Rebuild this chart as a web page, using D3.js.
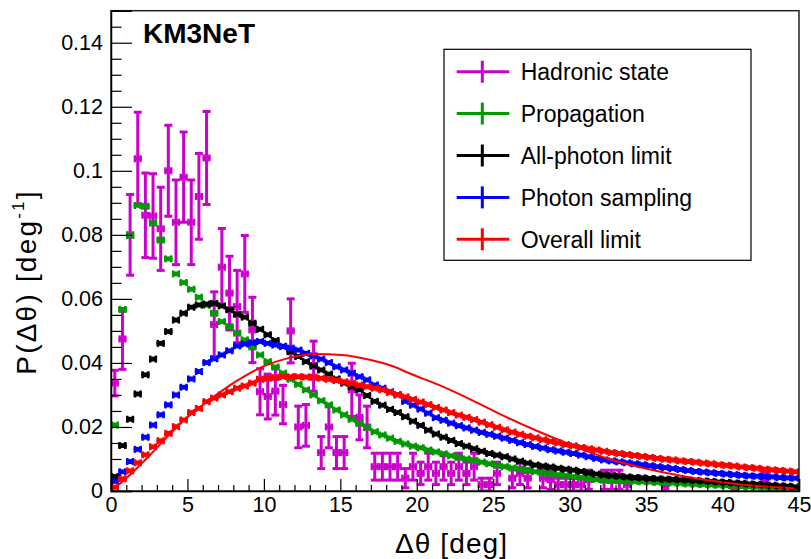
<!DOCTYPE html>
<html><head><meta charset="utf-8">
<script src="https://cdn.jsdelivr.net/npm/d3@7"></script>
<style>
body{margin:0;background:#fff}
svg{display:block}
text{font-family:"Liberation Sans",Arial,Helvetica,sans-serif}
</style>
</head><body>
<svg id="chart" width="811" height="559"></svg>
<script>
// ---------------- data ----------------
const binWidth = 0.5;
const binLow = d3.range(0, 45, binWidth);           // 90 bins of 0.5 deg
const xTicks = [0, 5, 10, 15, 20, 25, 30, 35, 40, 45];
const xTickLabels = ["0","5","10","15","20","25","30","35","40","45"];
const yTicks = [0, 0.02, 0.04, 0.06, 0.08, 0.1, 0.12, 0.14];
const yTickLabels = ["0","0.02","0.04","0.06","0.08","0.1","0.12","0.14"];

const hadronicVal = [
 0.0337,0.0475,0.0800,0.1038,0.0861,0.0859,0.0819,0.1000,0.0839,0.0980,
 0.0839,0.0920,0.1040,0.0520,0.0699,0.0618,0.0576,0.0678,0.0503,0.0310,
 0.0295,0.0312,0.0270,0.0500,0.0200,0.0205,0.0390,0.0120,0.0200,0.0120,
 0.0120,0.0316,0.0230,0.0200,0.0076,0.0076,0.0076,0.0076,0.0040,0.0076,
 0.0055,0.0076,0.0055,0.0076,0.0055,0.0076,0.0055,0.0076,0.0020,0.0020,
 0.0055,null,0.0040,0.0055,0.0040,null,0.0040,0.0035,0.0020,0.0020,
 0.0020,0.0020,0.0035,null,0.0035,0.0035,0.0035,0.0020,null,null,
 null,null,0.0013,null,null,null,null,null,null,null,
 null,0.0010,null,null,null,0.0035,null,null,null,null];
const hadronicErr = [
 0.0040,0.0095,0.0126,0.0145,0.0132,0.0132,0.0130,0.0142,0.0132,0.0141,
 0.0132,0.0134,0.0145,0.0102,0.0121,0.0115,0.0113,0.0120,0.0102,0.0072,
 0.0070,0.0075,0.0060,0.0100,0.0065,0.0065,0.0078,0.0050,0.0065,0.0050,
 0.0050,0.0083,0.0070,0.0065,0.0042,0.0042,0.0042,0.0042,0.0030,0.0042,
 0.0035,0.0042,0.0035,0.0042,0.0035,0.0042,0.0035,0.0042,0.0020,0.0020,
 0.0035,0,0.0030,0.0035,0.0030,0,0.0030,0.0030,0.0020,0.0020,
 0.0020,0.0020,0.0030,0,0.0030,0.0030,0.0030,0.0020,0,0,
 0,0,0.0012,0,0,0,0,0,0,0,
 0,0.0010,0,0,0,0.0025,0,0,0,0];

const propagation = [
 0.0206,0.0567,0.0798,0.0892,0.0889,0.0837,0.0784,0.0725,0.0678,0.0651,
 0.0630,0.0605,0.0580,0.0555,0.0529,0.0513,0.0493,0.0472,0.0450,0.0425,
 0.0404,0.0387,0.0368,0.0349,0.0333,0.0316,0.0300,0.0282,0.0269,0.0253,
 0.0238,0.0224,0.0211,0.0198,0.0185,0.0175,0.0165,0.0155,0.0147,0.0140,
 0.0135,0.0128,0.0122,0.0116,0.0110,0.0105,0.0100,0.0095,0.0090,0.0085,
 0.0080,0.0076,0.0072,0.0068,0.0064,0.0060,0.0057,0.0054,0.0051,0.0048,
 0.0045,0.0042,0.0039,0.0036,0.0034,0.0033,0.0032,0.0031,0.0030,0.0029,
 0.0028,0.0027,0.0026,0.0025,0.0024,0.0022,0.0021,0.0020,0.0019,0.0018,
 0.0017,0.0016,0.0014,0.0013,0.0012,0.0011,0.0009,0.0008,0.0007,0.0005];

const allPhoton = [
 0.0045,0.0142,0.0224,0.0303,0.0363,0.0412,0.0461,0.0498,0.0534,0.0555,
 0.0574,0.0581,0.0584,0.0586,0.0578,0.0566,0.0552,0.0543,0.0524,0.0505,
 0.0488,0.0470,0.0452,0.0435,0.0420,0.0404,0.0391,0.0378,0.0365,0.0350,
 0.0337,0.0326,0.0316,0.0298,0.0280,0.0268,0.0255,0.0245,0.0232,0.0218,
 0.0205,0.0190,0.0178,0.0168,0.0158,0.0148,0.0140,0.0132,0.0124,0.0117,
 0.0112,0.0107,0.0100,0.0093,0.0087,0.0081,0.0078,0.0075,0.0071,0.0068,
 0.0065,0.0061,0.0057,0.0053,0.0050,0.0048,0.0046,0.0044,0.0042,0.0041,
 0.0039,0.0038,0.0037,0.0036,0.0035,0.0034,0.0033,0.0031,0.0030,0.0028,
 0.0027,0.0025,0.0024,0.0022,0.0021,0.0019,0.0018,0.0016,0.0015,0.0013];

const photonSampling = [
 0.0030,0.0060,0.0092,0.0130,0.0168,0.0206,0.0238,0.0269,0.0300,0.0324,
 0.0350,0.0373,0.0401,0.0413,0.0425,0.0438,0.0453,0.0459,0.0463,0.0467,
 0.0461,0.0456,0.0451,0.0446,0.0440,0.0430,0.0422,0.0412,0.0401,0.0388,
 0.0378,0.0368,0.0357,0.0347,0.0331,0.0321,0.0310,0.0300,0.0280,0.0268,
 0.0256,0.0243,0.0229,0.0221,0.0212,0.0204,0.0197,0.0190,0.0183,0.0177,
 0.0171,0.0165,0.0158,0.0151,0.0145,0.0139,0.0134,0.0129,0.0125,0.0121,
 0.0117,0.0112,0.0107,0.0102,0.0097,0.0094,0.0091,0.0088,0.0085,0.0082,
 0.0079,0.0076,0.0073,0.0070,0.0067,0.0064,0.0061,0.0059,0.0057,0.0055,
 0.0053,0.0051,0.0049,0.0047,0.0046,0.0045,0.0044,0.0042,0.0041,0.0040];

const overallLimit = [
 0.0012,0.0038,0.0063,0.0088,0.0113,0.0138,0.0157,0.0180,0.0201,0.0222,
 0.0245,0.0258,0.0279,0.0290,0.0300,0.0310,0.0321,0.0328,0.0337,0.0349,
 0.0352,0.0354,0.0357,0.0357,0.0357,0.0356,0.0355,0.0352,0.0349,0.0345,
 0.0341,0.0336,0.0331,0.0326,0.0321,0.0316,0.0308,0.0301,0.0294,0.0286,
 0.0278,0.0270,0.0261,0.0253,0.0245,0.0237,0.0230,0.0223,0.0215,0.0207,
 0.0199,0.0191,0.0184,0.0177,0.0171,0.0166,0.0160,0.0155,0.0150,0.0145,
 0.0141,0.0136,0.0132,0.0128,0.0124,0.0120,0.0117,0.0114,0.0111,0.0108,
 0.0105,0.0102,0.0099,0.0097,0.0094,0.0092,0.0090,0.0087,0.0085,0.0082,
 0.0080,0.0078,0.0075,0.0073,0.0071,0.0068,0.0066,0.0064,0.0062,0.0060];

// statistical errors of the high-statistics histograms (tiny)
const histErr = 0.0003;

// smooth "Overall limit" curve, read at sample points
const fitDeg = [0, 1, 2.5, 4, 5, 6.15, 8.33, 10, 11.6, 13.3, 15.1, 17, 18.8, 19.2, 21.4, 23.6, 25.8, 28, 30.1, 32.1, 34.9, 38.2, 41.5, 44.7];
const fitVal = [0, 0.004, 0.011, 0.0185, 0.023, 0.0274, 0.0347, 0.039, 0.0415, 0.0428, 0.0425, 0.0409, 0.0383, 0.0374, 0.0332, 0.0284, 0.0232, 0.0185, 0.0144, 0.0107, 0.0071, 0.0040, 0.0019, 0.0008];

const seriesNames  = ["Hadronic state","Propagation","All-photon limit","Photon sampling","Overall limit"];
const seriesColors = ["#cc00cc","#009900","#000000","#0000ff","#ff0000"];

// ---------------- layout ----------------
const W = 811, H = 559;
const m = {left:111, right:12, top:10.7, bottom:68};
const svg = d3.select("#chart");
const x = d3.scaleLinear().domain([0,45]).range([m.left, W - m.right]);
const y = d3.scaleLinear().domain([0,0.15]).range([H - m.bottom, m.top]);

svg.append("rect").attr("width",W).attr("height",H).attr("fill","#fff");

svg.append("clipPath").attr("id","plotclip").append("rect")
  .attr("x", m.left).attr("y", m.top).attr("width", W-m.left-m.right).attr("height", H-m.top-m.bottom);

const plot = svg.append("g").attr("clip-path","url(#plotclip)");

function drawSeries(vals, errs, color){
  const g = plot.append("g").attr("stroke", color).attr("fill","none").attr("stroke-linecap","butt");
  vals.forEach((v,i)=>{
    if (v === null || v === undefined) return;
    const e = Array.isArray(errs) ? errs[i] : errs;
    const xa = x(binLow[i]), xb = x(binLow[i]+binWidth), xc = (xa+xb)/2;
    const yv = y(v), yt = y(v+e), yb = y(Math.max(v-e,0));
    g.append("line").attr("x1",xa).attr("x2",xb).attr("y1",yv).attr("y2",yv).attr("stroke-width",3);
    g.append("line").attr("x1",xa+1).attr("x2",xa+1).attr("y1",yv-3.5).attr("y2",yv+3.5).attr("stroke-width",2.5);
    g.append("line").attr("x1",xb-1).attr("x2",xb-1).attr("y1",yv-3.5).attr("y2",yv+3.5).attr("stroke-width",2.5);
    g.append("line").attr("x1",xc).attr("x2",xc).attr("y1",yt).attr("y2",yb).attr("stroke-width",3);
    g.append("line").attr("x1",xc-4).attr("x2",xc+4).attr("y1",yt).attr("y2",yt).attr("stroke-width",3);
    g.append("line").attr("x1",xc-4).attr("x2",xc+4).attr("y1",yb).attr("y2",yb).attr("stroke-width",3);
  });
}

drawSeries(hadronicVal, hadronicErr, seriesColors[0]);
drawSeries(propagation, histErr, seriesColors[1]);
drawSeries(allPhoton, histErr, seriesColors[2]);
drawSeries(photonSampling, histErr, seriesColors[3]);
drawSeries(overallLimit, histErr, seriesColors[4]);

const fitPts = fitDeg.map((d,i)=>[d, fitVal[i]]);
plot.append("path").datum(fitPts)
  .attr("fill","none").attr("stroke","#ff0000").attr("stroke-width",2)
  .attr("d", d3.line().x(d=>x(d[0])).y(d=>y(d[1])).curve(d3.curveMonotoneX));

// ---------------- axes ----------------
const fontTick = 21.5;
svg.append("rect").attr("x",m.left).attr("y",m.top).attr("width",W-m.left-m.right).attr("height",H-m.top-m.bottom)
  .attr("fill","none").attr("stroke","#222").attr("stroke-width",1.5);

const yMinor = d3.range(0, 0.1500001, 0.005).filter(v => Math.abs((v/0.02) - Math.round(v/0.02)) > 1e-6);
const yAxisMinor = d3.axisLeft(y).tickValues(yMinor).tickSize(-10.5).tickFormat("");
const yAxisMajor = d3.axisLeft(y).tickValues(yTicks).tickSize(-21).tickPadding(8)
  .tickFormat((d,i)=>yTickLabels[i]);
svg.append("g").attr("transform",`translate(${m.left},0)`).call(yAxisMinor)
  .call(g=>g.select(".domain").remove()).selectAll("line").attr("stroke","#000").attr("stroke-width",1.2);
const ya = svg.append("g").attr("transform",`translate(${m.left},0)`).call(yAxisMajor);
ya.select(".domain").attr("stroke","#000").attr("stroke-width",1.5);
ya.selectAll("line").attr("stroke","#000").attr("stroke-width",1.2);
ya.selectAll("text").attr("font-size",fontTick).attr("fill","#000")
  .attr("font-family",'"Liberation Sans",Arial,sans-serif');

const xMinor = d3.range(0, 45.0001, 1).filter(v => v % 5 !== 0);
const xAxisMinor = d3.axisBottom(x).tickValues(xMinor).tickSize(-6).tickFormat("");
const xAxisMajor = d3.axisBottom(x).tickValues(xTicks).tickSize(-12).tickPadding(6)
  .tickFormat((d,i)=>xTickLabels[i]);
svg.append("g").attr("transform",`translate(0,${H-m.bottom})`).call(xAxisMinor)
  .call(g=>g.select(".domain").remove()).selectAll("line").attr("stroke","#000").attr("stroke-width",1.2);
const xa = svg.append("g").attr("transform",`translate(0,${H-m.bottom})`).call(xAxisMajor);
xa.select(".domain").attr("stroke","#000").attr("stroke-width",1.5);
xa.selectAll("line").attr("stroke","#000").attr("stroke-width",1.2);
xa.selectAll("text").attr("font-size",fontTick).attr("fill","#000")
  .attr("font-family",'"Liberation Sans",Arial,sans-serif');

// axis titles
svg.append("text").attr("x", 451).attr("y", 553).attr("text-anchor","middle")
  .attr("font-size",28).attr("fill","#000")
  .attr("textLength",112).attr("lengthAdjust","spacing")
  .text("Δθ [deg]");

const yt = svg.append("text").attr("transform","translate(36,282) rotate(-90)")
  .attr("text-anchor","middle").attr("font-size",28).attr("fill","#000")
  .attr("letter-spacing", 2.2);
yt.append("tspan").text("P(Δθ) [deg");
yt.append("tspan").attr("font-size",17).attr("dy",-12).text("-1");
yt.append("tspan").attr("dy",12).text("]");

// KM3NeT label
svg.append("text").attr("x",143).attr("y",43.3).attr("font-size",28).attr("font-weight","bold")
  .attr("fill","#000").text("KM3NeT");

// ---------------- legend ----------------
const leg = svg.append("g");
leg.append("rect").attr("x",444).attr("y",49.3).attr("width",307).attr("height",211)
  .attr("fill","#fff").attr("stroke","#000").attr("stroke-width",1.2);
const rowY = d => 71.7 + d*41.9;
seriesNames.forEach((name,i)=>{
  const cy = rowY(i);
  leg.append("line").attr("x1",456.7).attr("x2",509.3).attr("y1",cy).attr("y2",cy)
    .attr("stroke",seriesColors[i]).attr("stroke-width",3);
  leg.append("line").attr("x1",482.3).attr("x2",482.3).attr("y1",cy-11).attr("y2",cy+11)
    .attr("stroke",seriesColors[i]).attr("stroke-width",3);
  leg.append("text").attr("x",520.7).attr("y",cy).attr("dy","0.36em")
    .attr("font-size",23).attr("fill","#000").text(name);
});
</script>
</body></html>
